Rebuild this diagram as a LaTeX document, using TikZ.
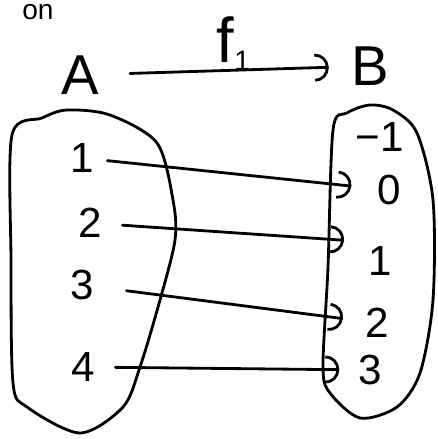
\documentclass[tikz,border=0pt]{standalone}
\usepackage{fontspec}
\setmainfont{Liberation Sans}
\usetikzlibrary{arrows.meta}

\begin{document}
\begin{tikzpicture}[x=0.02cm,y=-0.02cm,line width=1.6pt,line cap=round,
  >={Arc Barb[length=8pt,width=16pt]},
  ttl/.style={font=\fontsize{32}{38}\selectfont,inner sep=2pt},
  elt/.style={font=\fontsize{24}{28}\selectfont,inner sep=2pt},
  map/.style={->,shorten <=9pt,shorten >=10pt}]
  \useasboundingbox (0,0) rectangle (437,439);
  \clip (0,0) rectangle (437,439);
  % 見出し
  \node[anchor=base,inner sep=1pt,font=\fontsize{16}{18}\selectfont] (on) at (38,20) {on};
  \node[ttl] (A) at (80,75) {A};
  \node[ttl] (B) at (370,66) {B};
  \node[ttl,anchor=base west,font=\fontsize{36}{40}\selectfont] (f) at (212,63)
    {f\raisebox{-4pt}{\fontsize{16}{16}\selectfont 1}};
  \draw[->,shorten <=15pt,shorten >=10pt] (A) -- (B);
  % 集合
  \draw plot[smooth cycle] coordinates {(12,135) (42,118) (67,110) (110,115)
    (157,143) (173,200) (175,240) (160,300) (140,367) (123,407) (80,433)
    (27,407) (13,383) (11,260)};
  \draw plot[smooth cycle] coordinates {(333,130) (347,113) (370,105) (393,110)
    (417,133) (433,200) (433,300) (420,373) (397,407) (360,418) (330,393)
    (323,367) (328,267)};
  % 要素
  \node[elt] (a1) at (82,158) {1};
  \node[elt] (a2) at (90,223) {2};
  \node[elt] (a3) at (82,285) {3};
  \node[elt] (a4) at (83,367) {4};
  \node[elt] (bm) at (380,137) {−1};
  \node[elt] (b0) at (389,190) {0};
  \node[elt] (b1) at (380,261) {1};
  \node[elt] (b2) at (377,323) {2};
  \node[elt] (b3) at (370,370) {3};
  % 写像
  \draw[map,shorten <=5pt,shorten >=12pt] (a1) -- (b0);
  \draw[map,shorten >=11pt] (a2) -- (b1.north west);
  \draw[map,shorten <=16pt] (a3) -- (b2);
  \draw[map,shorten >=8pt] (a4) -- (b3);
\end{tikzpicture}
\end{document}
